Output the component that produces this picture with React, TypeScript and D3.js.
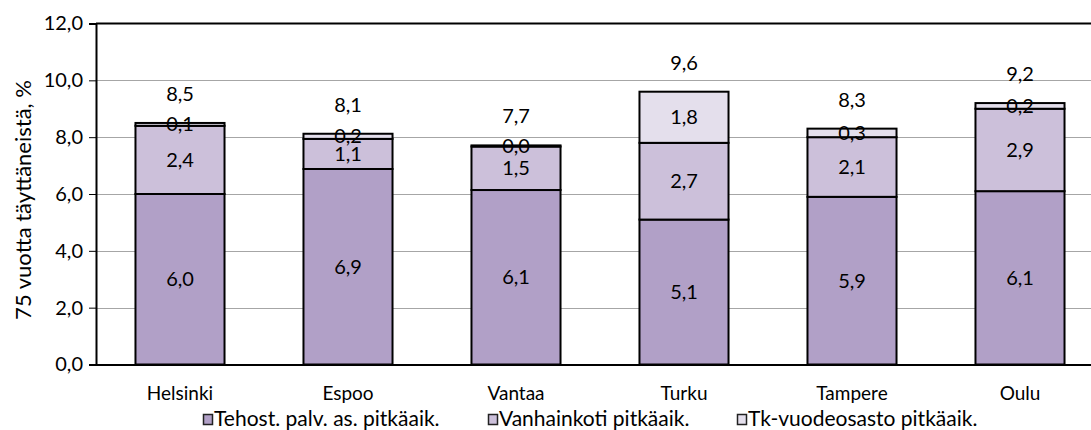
import { useEffect, useRef } from 'react';
import * as d3 from 'd3';

const CITIES = ['Helsinki', 'Espoo', 'Vantaa', 'Turku', 'Tampere', 'Oulu'];
const TEHOST = [6.0, 6.88, 6.14, 5.1, 5.9, 6.1];
const VANHAINKOTI = [2.4, 1.06, 1.53, 2.7, 2.1, 2.9];
const TK_OSASTO = [0.1, 0.18, 0.04, 1.8, 0.3, 0.2];
const SERIES_NAMES = ['Tehost. palv. as. pitkäaik.', 'Vanhainkoti pitkäaik.', 'Tk-vuodeosasto pitkäaik.'];
const Y_TICKS = [0, 2, 4, 6, 8, 10, 12];

const COLORS = ['#B1A0C7', '#CCC0DA', '#E4DFEC'];
const FONT = 'Lato, "Open Sans", sans-serif';
const W = 1091;
const H = 430;
const MARGIN = { top: 23.5, left: 96, bottom: 66 };
const fmt = (v: number) => v.toFixed(1).replace('.', ',');

export default function App() {
  const svgRef = useRef<SVGSVGElement>(null);

  useEffect(() => {
    if (!svgRef.current) return;
    const svg = d3.select(svgRef.current);
    svg.selectAll('*').remove();

    const innerBottom = H - MARGIN.bottom + 0.5;
    const x = d3.scaleBand<string>()
      .domain(CITIES)
      .range([MARGIN.left, MARGIN.left + 168 * CITIES.length])
      .paddingInner(0.47)
      .paddingOuter(0.235);
    const y = d3.scaleLinear().domain([0, 12]).range([innerBottom, MARGIN.top]);

    const rows = CITIES.map((c, i) => ({ city: c, values: [TEHOST[i], VANHAINKOTI[i], TK_OSASTO[i]] }));
    const stack = d3.stack<{ city: string; values: number[] }, number>()
      .keys([0, 1, 2])
      .value((d, k) => d.values[k]);
    const layers = stack(rows);

    // gridlines
    svg.append('g')
      .selectAll('line')
      .data(Y_TICKS.filter(t => t > 0 && t < 12))
      .join('line')
      .attr('x1', MARGIN.left).attr('x2', W)
      .attr('y1', d => Math.round(y(d)) + 0.5).attr('y2', d => Math.round(y(d)) + 0.5)
      .attr('stroke', '#A6A6A6').attr('stroke-width', 1);

    // top frame line
    svg.append('line')
      .attr('x1', MARGIN.left).attr('x2', W)
      .attr('y1', y(12)).attr('y2', y(12))
      .attr('stroke', '#000').attr('stroke-width', 2);

    // bars
    const bars = svg.append('g');
    layers.forEach((layer, li) => {
      bars.append('g')
        .selectAll('rect')
        .data(layer)
        .join('rect')
        .attr('x', d => x(d.data.city)!)
        .attr('y', d => y(d[1]))
        .attr('width', x.bandwidth())
        .attr('height', d => y(d[0]) - y(d[1]))
        .attr('fill', COLORS[li])
        .attr('stroke', '#000')
        .attr('stroke-width', 2);
    });

    // segment labels
    layers.forEach(layer => {
      svg.append('g')
        .selectAll('text')
        .data(layer)
        .join('text')
        .attr('x', d => x(d.data.city)! + x.bandwidth() / 2)
        .attr('y', d => (y(d[0]) + y(d[1])) / 2)
        .attr('dy', '0.35em')
        .attr('text-anchor', 'middle')
        .attr('font-family', FONT)
        .attr('font-size', 20)
        .attr('fill', '#000')
        .text(d => fmt(d[1] - d[0]));
    });

    // totals
    svg.append('g')
      .selectAll('text')
      .data(rows)
      .join('text')
      .attr('x', d => x(d.city)! + x.bandwidth() / 2)
      .attr('y', d => y(d3.sum(d.values)) - 29)
      .attr('dy', '0.35em')
      .attr('text-anchor', 'middle')
      .attr('font-family', FONT)
      .attr('font-size', 20)
      .attr('fill', '#000')
      .text(d => fmt(d3.sum(d.values)));

    // y axis
    const yAxis = svg.append('g')
      .attr('transform', `translate(${MARGIN.left},0)`)
      .call(d3.axisLeft(y).tickValues(Y_TICKS).tickSize(7).tickPadding(6).tickFormat(d => fmt(d as number)));
    yAxis.select('.domain').attr('stroke', '#000').attr('stroke-width', 2);
    yAxis.selectAll('.tick line').attr('stroke', '#000');
    yAxis.selectAll('text').attr('font-family', FONT).attr('font-size', 20).attr('fill', '#000');

    // x axis
    const xAxis = svg.append('g')
      .attr('transform', `translate(0,${innerBottom})`)
      .call(d3.axisBottom(x).tickSize(0).tickPadding(22));
    xAxis.select('.domain').attr('stroke', '#000').attr('stroke-width', 2);
    xAxis.selectAll('text').attr('font-family', FONT).attr('font-size', 19).attr('fill', '#000');

    // y title
    svg.append('text')
      .attr('transform', `translate(23,200) rotate(-90)`)
      .attr('dy', '0.35em')
      .attr('text-anchor', 'middle')
      .attr('font-family', FONT)
      .attr('font-size', 22)
      .attr('fill', '#000')
      .text('75 vuotta täyttäneistä, %');

    // legend
    const legendX = [203, 488, 737];
    const legend = svg.append('g');
    SERIES_NAMES.forEach((name, i) => {
      legend.append('rect')
        .attr('x', legendX[i] + 0.5).attr('y', 414.5)
        .attr('width', 9).attr('height', 10)
        .attr('fill', COLORS[i])
        .attr('stroke', '#222').attr('stroke-width', 1.5);
      legend.append('text')
        .attr('x', legendX[i] + 11)
        .attr('y', 419)
        .attr('dy', '0.35em')
        .attr('font-family', FONT)
        .attr('font-size', 21)
        .attr('fill', '#000')
        .text(name);
    });
  }, []);

  return (
    <svg
      ref={svgRef}
      width={W}
      height={H}
      style={{ position: 'absolute', left: 0, top: 0, background: '#fff', overflow: 'hidden' }}
    />
  );
}
